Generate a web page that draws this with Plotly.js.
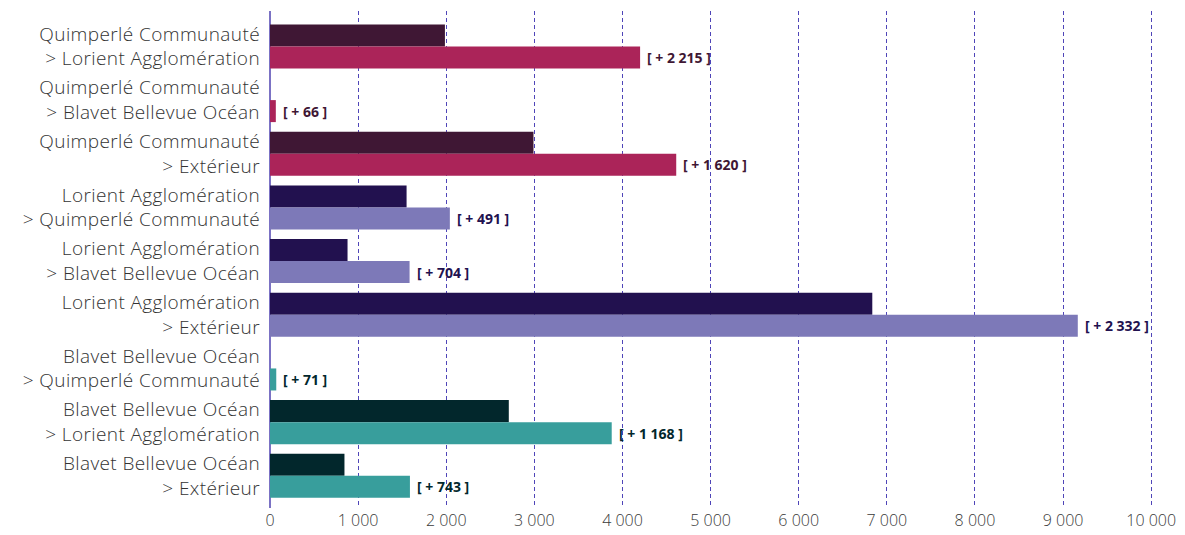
<!DOCTYPE html>
<html><head><meta charset="utf-8">
<script src="https://cdn.plot.ly/plotly-3.0.1.min.js"></script>
<style>body{margin:0;background:#fff}#chart{width:1185px;height:535px}
#chart .ytick text{letter-spacing:0.4px}</style>
</head><body><div id="chart"></div>
<script>
const categories = [
  "Quimperlé Communauté<br>> Lorient Agglomération",
  "Quimperlé Communauté<br>> Blavet Bellevue Océan",
  "Quimperlé Communauté<br>> Extérieur",
  "Lorient Agglomération<br>> Quimperlé Communauté",
  "Lorient Agglomération<br>> Blavet Bellevue Océan",
  "Lorient Agglomération<br>> Extérieur",
  "Blavet Bellevue Océan<br>> Quimperlé Communauté",
  "Blavet Bellevue Océan<br>> Lorient Agglomération",
  "Blavet Bellevue Océan<br>> Extérieur"
];
const before = [1985, 0, 2990, 1550, 880, 6835, 0, 2710, 845];
const after  = [4200, 66, 4610, 2041, 1584, 9167, 71, 3878, 1588];
const diffLabels = ["[ + 2 215 ]", "[ + 66 ]", "[ + 1 620 ]", "[ + 491 ]", "[ + 704 ]", "[ + 2 332 ]", "[ + 71 ]", "[ + 1 168 ]", "[ + 743 ]"];
const darkColors  = ["#3f1734","#3f1734","#3f1734","#22114f","#22114f","#22114f","#02272c","#02272c","#02272c"];
const lightColors = ["#ab2459","#ab2459","#ab2459","#7d79b8","#7d79b8","#7d79b8","#389e9c","#389e9c","#389e9c"];
const textColors  = ["#3f1734","#3f1734","#3f1734","#22114f","#22114f","#22114f","#02272c","#02272c","#02272c"];
const xTicks = [0,1000,2000,3000,4000,5000,6000,7000,8000,9000,10000];
const xTickText = ["0","1 000","2 000","3 000","4 000","5 000","6 000","7 000","8 000","9 000","10 000"];

const traces = [
  {type:'bar', orientation:'h', y:categories, x:before, marker:{color:darkColors}, hoverinfo:'x'},
  {type:'bar', orientation:'h', y:categories, x:after, marker:{color:lightColors}, hoverinfo:'x'}
];
const annotations = categories.map((c,i)=>({
  x: after[i], y: c, xref:'x', yref:'y', yshift:-11,
  text: diffLabels[i], showarrow:false, xanchor:'left', xshift:5,
  font:{family:'"Open Sans", sans-serif', size:14, color:textColors[i], weight:700}
}));
const layout = {
  width:1185, height:535,
  margin:{l:270, r:25, t:11, b:27},
  barmode:'group', bargap:0.18, bargroupgap:0,
  showlegend:false,
  paper_bgcolor:'#fff', plot_bgcolor:'#fff',
  xaxis:{range:[0,10100], tickvals:xTicks, ticktext:xTickText,
    showgrid:true, gridcolor:'#4f45b8', griddash:'4px,3px', gridwidth:1,
    zeroline:true, zerolinecolor:'#7b72c4', zerolinewidth:2,
    showline:false, ticks:'', ticklabelstandoff:1,
    tickfont:{family:'"Open Sans", sans-serif', size:16, color:'#3a3a3a', weight:300}},
  yaxis:{type:'category', range:[8.6,-0.66], showgrid:false, zeroline:false, showline:false,
    ticks:'', ticklabelstandoff:9,
    tickfont:{family:'"Open Sans", sans-serif', size:19, color:'#333', weight:300}},
  annotations: annotations
};
Plotly.newPlot('chart', traces, layout, {displayModeBar:false, staticPlot:true});
</script></body></html>
